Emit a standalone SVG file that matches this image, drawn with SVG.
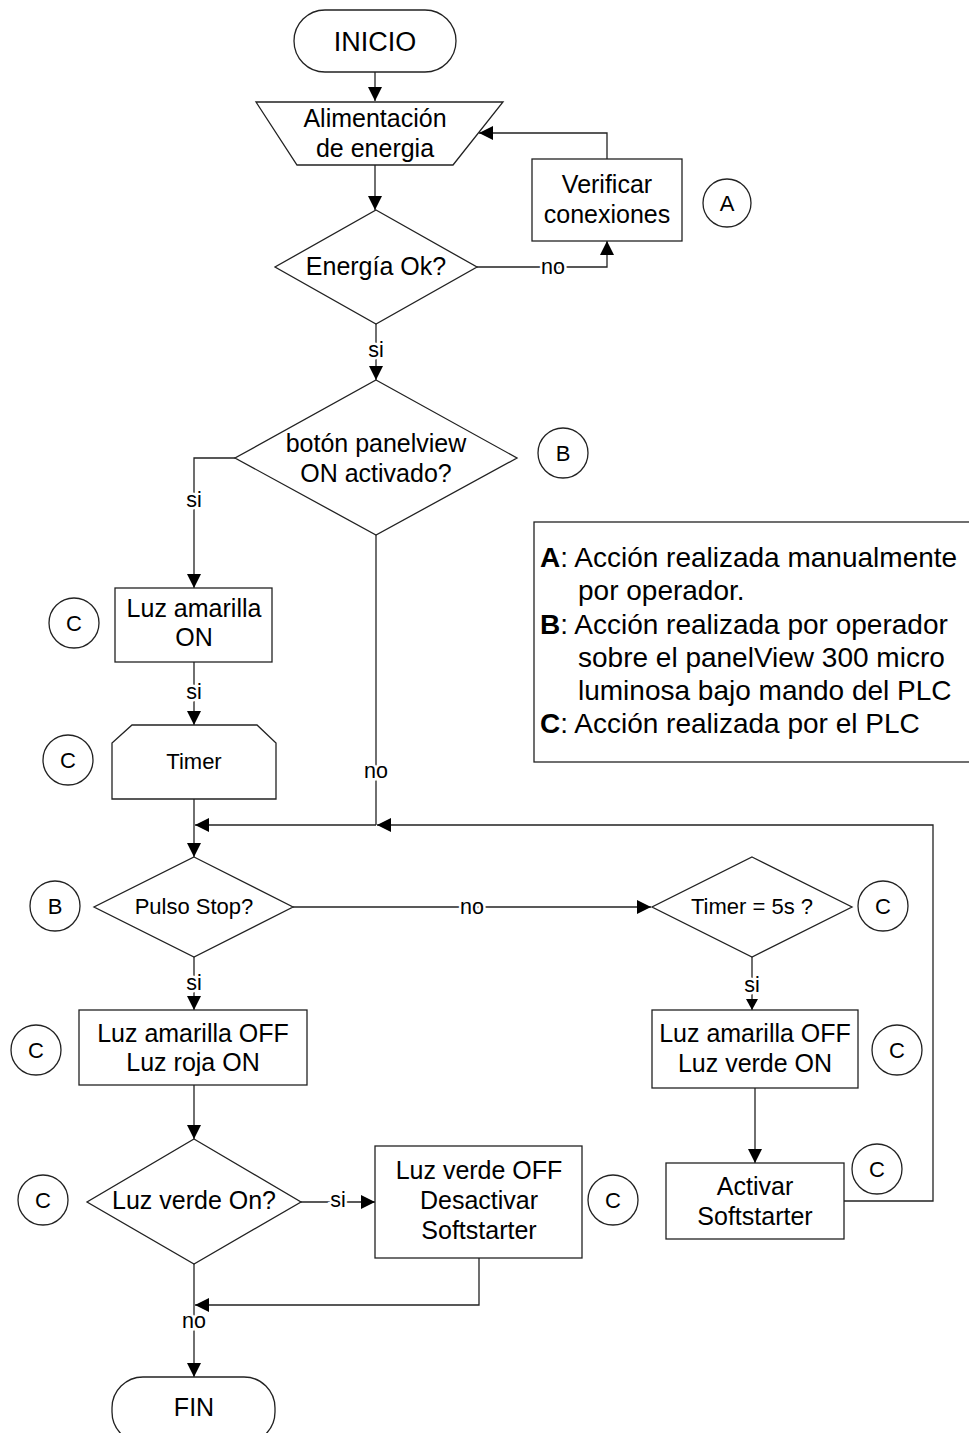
<svg xmlns="http://www.w3.org/2000/svg" width="969" height="1433" viewBox="0 0 969 1433">
  <style>
    .shape { fill: #fff; stroke: #222; stroke-width: 1.3; }
    .wire { fill: none; stroke: #222; stroke-width: 1.3; }
    .t { font-family: "Liberation Sans", Arial, sans-serif; font-size: 25px; fill: #000; text-anchor: middle; }
    .s { font-size: 22px; }
    .big { font-size: 27px; }
    .lbl { font-family: "Liberation Sans", Arial, sans-serif; font-size: 21.5px; fill: #000; text-anchor: middle; stroke: #fff; stroke-width: 5px; paint-order: stroke; }
    .tag { font-family: "Liberation Sans", Arial, sans-serif; font-size: 22px; fill: #000; text-anchor: middle; }
    .leg { font-family: "Liberation Sans", Arial, sans-serif; font-size: 28px; fill: #000; }
    .b { font-weight: bold; }
  </style>
  <defs>
    <marker id="arr" markerUnits="userSpaceOnUse" markerWidth="14" markerHeight="14" refX="14" refY="7" orient="auto">
      <path d="M0,0 L14,7 L0,14 z" fill="#000"/>
    </marker>
    <marker id="arrS" markerUnits="userSpaceOnUse" markerWidth="11" markerHeight="12" refX="11" refY="6" orient="auto">
      <path d="M0,0 L11,6 L0,12 z" fill="#000"/>
    </marker>
  </defs>
  <rect width="969" height="1433" fill="#fff"/>

  <!-- connectors -->
  <g id="connectors">
    <path class="wire" d="M375,72 V101" marker-end="url(#arr)"/>
    <path class="wire" d="M375,165 V210" marker-end="url(#arr)"/>
    <path class="wire" d="M477,267 H607 V241" marker-end="url(#arr)"/>
    <path class="wire" d="M607,159 V133 H479" marker-end="url(#arr)"/>
    <path class="wire" d="M376,324 V380" marker-end="url(#arr)"/>
    <path class="wire" d="M235,458 H194 V588" marker-end="url(#arr)"/>
    <path class="wire" d="M194,662 V725" marker-end="url(#arr)"/>
    <path class="wire" d="M376,535 V825"/>
    <path class="wire" d="M194,799 V857" marker-end="url(#arr)"/>
    <path class="wire" d="M844,1201 H933 V825 H377" marker-end="url(#arr)"/>
    <path class="wire" d="M376,825 H195" marker-end="url(#arr)"/>
    <path class="wire" d="M293,907 H651" marker-end="url(#arr)"/>
    <path class="wire" d="M752,957 V1010" marker-end="url(#arrS)"/>
    <path class="wire" d="M755,1088 V1163" marker-end="url(#arr)"/>
    <path class="wire" d="M194,957 V1010" marker-end="url(#arr)"/>
    <path class="wire" d="M194,1085 V1139" marker-end="url(#arr)"/>
    <path class="wire" d="M301,1202 H375" marker-end="url(#arr)"/>
    <path class="wire" d="M479,1258 V1305 H195" marker-end="url(#arr)"/>
    <path class="wire" d="M194,1264 V1377" marker-end="url(#arr)"/>

    <text class="lbl" x="553" y="274">no</text>
    <text class="lbl" x="376" y="357">si</text>
    <text class="lbl" x="194" y="507">si</text>
    <text class="lbl" x="194" y="699">si</text>
    <text class="lbl" x="376" y="778">no</text>
    <text class="lbl" x="472" y="914">no</text>
    <text class="lbl" x="194" y="990">si</text>
    <text class="lbl" x="752" y="992">si</text>
    <text class="lbl" x="338" y="1207">si</text>
    <text class="lbl" x="194" y="1328">no</text>
  </g>

  <g id="inicio">
    <rect class="shape" x="294" y="10" width="162" height="62" rx="31"/>
    <text class="t big" x="375" y="51">INICIO</text>
  </g>

  <g id="alimentacion">
    <polygon class="shape" points="256,102 503,102 453,165 297,165"/>
    <text class="t" x="375" y="127">Alimentación</text>
    <text class="t" x="375" y="157">de energia</text>
  </g>

  <g id="verificar">
    <rect class="shape" x="532" y="159" width="150" height="82"/>
    <text class="t" x="607" y="193">Verificar</text>
    <text class="t" x="607" y="223">conexiones</text>
  </g>
  <g id="tag-a">
    <circle class="shape" cx="727" cy="203" r="24"/>
    <text class="tag" x="727" y="211">A</text>
  </g>

  <g id="energia-ok">
    <polygon class="shape" points="376,210 477,267 376,324 275,267"/>
    <text class="t" x="376" y="275">Energía Ok?</text>
  </g>

  <g id="boton-on">
    <polygon class="shape" points="376,380 517,458 376,535 235,458"/>
    <text class="t" x="376" y="452">botón panelview</text>
    <text class="t" x="376" y="482">ON activado?</text>
  </g>
  <g id="tag-b1">
    <circle class="shape" cx="563" cy="453" r="25"/>
    <text class="tag" x="563" y="461">B</text>
  </g>

  <g id="leyenda">
    <rect class="shape" x="534" y="522" width="445" height="240"/>
    <text class="leg" x="540" y="567"><tspan class="b">A</tspan>: Acción realizada manualmente</text>
    <text class="leg" x="578" y="600">por operador.</text>
    <text class="leg" x="540" y="634"><tspan class="b">B</tspan>: Acción realizada por operador</text>
    <text class="leg" x="578" y="667">sobre el panelView 300 micro</text>
    <text class="leg" x="578" y="700">luminosa bajo mando del PLC</text>
    <text class="leg" x="540" y="733"><tspan class="b">C</tspan>: Acción realizada por el PLC</text>
  </g>

  <g id="luz-amarilla-on">
    <rect class="shape" x="115" y="588" width="157" height="74"/>
    <text class="t" x="194" y="617">Luz amarilla</text>
    <text class="t" x="194" y="646">ON</text>
  </g>
  <g id="tag-c1">
    <circle class="shape" cx="74" cy="623" r="25"/>
    <text class="tag" x="74" y="631">C</text>
  </g>

  <g id="timer">
    <polygon class="shape" points="132,725 257,725 276,743 276,799 112,799 112,743"/>
    <text class="t s" x="194" y="769">Timer</text>
  </g>
  <g id="tag-c2">
    <circle class="shape" cx="68" cy="760" r="25"/>
    <text class="tag" x="68" y="768">C</text>
  </g>

  <g id="pulso-stop">
    <polygon class="shape" points="194,857 293,907 194,957 94,907"/>
    <text class="t s" x="194" y="914">Pulso Stop?</text>
  </g>
  <g id="tag-b2">
    <circle class="shape" cx="55" cy="906" r="25"/>
    <text class="tag" x="55" y="914">B</text>
  </g>

  <g id="timer-5s">
    <polygon class="shape" points="752,857 852,907 752,957 652,907"/>
    <text class="t s" x="752" y="914">Timer = 5s ?</text>
  </g>
  <g id="tag-c3">
    <circle class="shape" cx="883" cy="906" r="25"/>
    <text class="tag" x="883" y="914">C</text>
  </g>

  <g id="luz-roja-on">
    <rect class="shape" x="79" y="1010" width="228" height="75"/>
    <text class="t" x="193" y="1042">Luz amarilla OFF</text>
    <text class="t" x="193" y="1071">Luz roja ON</text>
  </g>
  <g id="tag-c4">
    <circle class="shape" cx="36" cy="1050" r="25"/>
    <text class="tag" x="36" y="1058">C</text>
  </g>

  <g id="luz-verde-on">
    <rect class="shape" x="652" y="1010" width="206" height="78"/>
    <text class="t" x="755" y="1042">Luz amarilla OFF</text>
    <text class="t" x="755" y="1072">Luz verde ON</text>
  </g>
  <g id="tag-c5">
    <circle class="shape" cx="897" cy="1050" r="25"/>
    <text class="tag" x="897" y="1058">C</text>
  </g>

  <g id="activar">
    <rect class="shape" x="666" y="1163" width="178" height="76"/>
    <text class="t" x="755" y="1195">Activar</text>
    <text class="t" x="755" y="1225">Softstarter</text>
  </g>
  <g id="tag-c6">
    <circle class="shape" cx="877" cy="1169" r="25"/>
    <text class="tag" x="877" y="1177">C</text>
  </g>

  <g id="luz-verde-check">
    <polygon class="shape" points="194,1139 301,1202 194,1264 87,1202"/>
    <text class="t" x="194" y="1209">Luz verde On?</text>
  </g>
  <g id="tag-c7">
    <circle class="shape" cx="43" cy="1200" r="25"/>
    <text class="tag" x="43" y="1208">C</text>
  </g>

  <g id="desactivar">
    <rect class="shape" x="375" y="1146" width="207" height="112"/>
    <text class="t" x="479" y="1179">Luz verde OFF</text>
    <text class="t" x="479" y="1209">Desactivar</text>
    <text class="t" x="479" y="1239">Softstarter</text>
  </g>
  <g id="tag-c8">
    <circle class="shape" cx="613" cy="1200" r="25"/>
    <text class="tag" x="613" y="1208">C</text>
  </g>

  <g id="fin">
    <rect class="shape" x="112" y="1377" width="163" height="66" rx="31"/>
    <text class="t" x="194" y="1416">FIN</text>
  </g>
</svg>
